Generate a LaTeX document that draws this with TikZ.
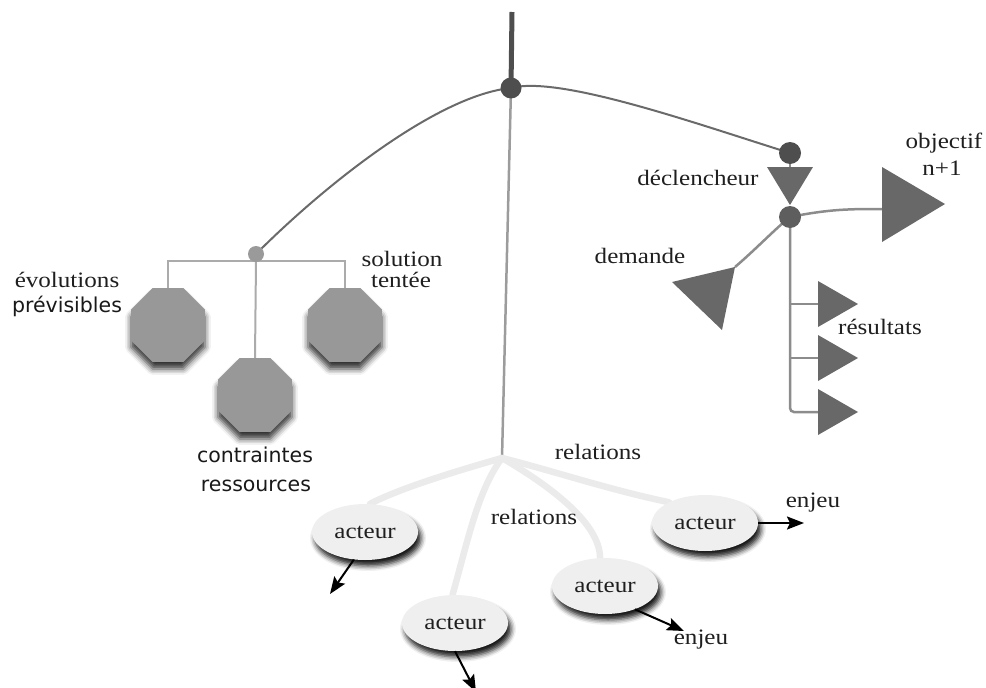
\documentclass[tikz,border=0pt]{standalone}
\usepackage{fontspec}
\newfontfamily\serifA[FakeStretch=1.14]{Liberation Serif}
\newfontfamily\sansA{DejaVu Sans}
\usetikzlibrary{shadows.blur,shapes.geometric,arrows.meta,backgrounds}
\definecolor{dotdark}{HTML}{4E4E4E}
\definecolor{dotmid}{HTML}{5E5E5E}
\definecolor{dotlight}{HTML}{9A9A9A}
\definecolor{curvegray}{HTML}{6A6A6A}
\definecolor{stemgray}{HTML}{9C9C9C}
\definecolor{brgray}{HTML}{ABABAB}
\definecolor{rgray}{HTML}{8C8C8C}
\definecolor{octfill}{HTML}{989898}
\definecolor{trifill}{HTML}{686868}
\definecolor{relgray}{HTML}{EBEBEB}
\definecolor{ellfill}{HTML}{EFEFEF}
\begin{document}
\begin{tikzpicture}[x=1pt,y=-1pt,
  dotn/.style={circle,inner sep=0pt,fill=#1},
  serif/.style={font=\serifA\fontsize{22}{24}\selectfont, text=black!88, inner sep=0pt},
  sans/.style={font=\sansA\fontsize{20.5}{24}\selectfont, text=black!90, inner sep=0pt},
  octa/.style={regular polygon, regular polygon sides=8, minimum size=80pt, inner sep=0pt, fill=octfill,
    blur shadow={shadow xshift=0pt, shadow yshift=-7pt, shadow blur radius=6pt, shadow opacity=80}},
  acteurn/.style={ellipse, minimum width=106pt, minimum height=56pt, inner sep=0pt, fill=ellfill,
    blur shadow={shadow xshift=3pt, shadow yshift=-6pt, shadow blur radius=5pt, shadow opacity=90}, serif},
  tri/.style={fill=trifill},
  curveline/.style={draw=curvegray, line width=2pt},
  relline/.style={draw=relgray, line width=6.5pt, line cap=round},
  enjarrow/.style={draw=black, line width=2pt, arrows={-Stealth[length=17pt, width=13pt, inset=3pt]}},
]
\useasboundingbox (0,0) rectangle (986,688);

% ---------- top hub ----------
\coordinate (top) at (512,12);
\node[dotn=dotdark, minimum size=21pt] (hub) at (511,88) {};
\coordinate (relhub) at (502,458);

% ---------- left group ----------
\node[dotn=dotlight, minimum size=16pt] (ldot) at (256,254) {};
\coordinate (brk) at (256,261);
\node[octa] (oc1) at (168,325) {};
\node[octa] (oc3) at (345,325) {};
\node[octa] (oc2) at (255,395) {};
\node[serif] (tevol) at (67,280) {évolutions};
\node[sans] (tprev) at (67,306) {prévisibles};
\node[serif] (tsol) at (402,259) {solution};
\node[serif] (tten) at (401,280) {tentée};
\node[sans] (tcont) at (255,455) {contraintes};
\node[sans] (tress) at (256,486) {ressources};

% ---------- right group ----------
\node[dotn=dotdark, minimum size=22pt] (rdot1) at (790,153) {};
\node[dotn=dotmid, minimum size=22pt] (rdot2) at (790,217) {};
\coordinate (dtop) at (790,167);
\coordinate (dl) at (767,167);
\coordinate (dr) at (813,167);
\coordinate (dap) at (790,205);
\fill[tri] (dl) -- (dr) -- (dap) -- cycle;
\coordinate (ob1) at (882,167);
\coordinate (ob2) at (882,242);
\coordinate (obap) at (945,204);
\coordinate (obin) at (882,209);
\fill[tri] (ob1) -- (ob2) -- (obap) -- cycle;
\coordinate (de1) at (672,282);
\coordinate (de2) at (735,267);
\coordinate (de3) at (722,330);
\fill[tri] (de1) -- (de2) -- (de3) -- cycle;
\coordinate (b1) at (790,304);
\coordinate (b2) at (790,358);
\coordinate (b3) at (790,412);
\coordinate (r1) at (818,304);
\coordinate (r2) at (818,358);
\coordinate (r3) at (818,412);
\fill[tri] (818,281) -- (818,327) -- (858,304) -- cycle;
\fill[tri] (818,335) -- (818,381) -- (858,358) -- cycle;
\fill[tri] (818,389) -- (818,435) -- (858,412) -- cycle;
\node[serif] (tdecl) at (698,178) {déclencheur};
\node[serif] (tobj) at (944,143) {objectif};
\node[serif] (tn) at (942,168) {n+1};
\node[serif] (tdem) at (640,256) {demande};
\node[serif] (tres) at (880,327) {résultats};

% ---------- bottom group ----------
\node[acteurn] (a1) at (365,532) {acteur};
\node[acteurn] (a2) at (455,623) {acteur};
\node[acteurn] (a3) at (605,586) {acteur};
\node[acteurn] (a4) at (705,523) {acteur};
\node[serif] (trel1) at (598,452) {relations};
\node[serif] (trel2) at (534,517) {relations};
\node[serif] (tenj1) at (813,503) {enjeu};
\node[serif] (tenj2) at (701,640) {enjeu};
\coordinate (e1) at (330,594);
\coordinate (e2) at (476,692);
\coordinate (e3) at (684,631);
\coordinate (e4) at (804,523);
\draw[enjarrow] (a1.-112) -- (e1);
\draw[enjarrow] (a2.-90) -- (e2);
\draw[enjarrow] (a3.-38) -- (e3);
\draw[enjarrow] (a4.east) -- (e4);

% ---------- connectors behind ----------
\begin{scope}[on background layer]
  \draw[draw=dotdark, line width=5pt] (top) -- (hub.center);
  \draw[curveline] (hub.center) .. controls (440,95) and (330,180) .. (ldot.center);
  \draw[curveline] (hub.center) .. controls (560,75) and (700,125) .. (rdot1.center);
  \draw[draw=stemgray, line width=2.5pt] (hub.center) -- (relhub);
  \draw[draw=brgray, line width=2pt] (oc1.north) |- (brk) -| (oc3.north);
  \draw[draw=brgray, line width=2pt] (brk) -- (oc2.north);
  \draw[draw=rgray, line width=2pt] (rdot1.center) -- (dtop);
  \draw[draw=rgray, line width=2.5pt] (rdot2.center) .. controls (830,209) and (850,209) .. (obin);
  \draw[draw=rgray, line width=2.5pt] (rdot2.center) .. controls (775,229) and (755,250) .. (de2);
  \draw[draw=rgray, line width=2.5pt, rounded corners=4pt] (rdot2.center) -- (b3) -- (r3);
  \draw[draw=rgray, line width=2.5pt] (b1) -- (r1);
  \draw[draw=rgray, line width=2.5pt] (b2) -- (r2);
  \draw[relline] (relhub) .. controls (460,470) and (400,488) .. (a1.80);
  \draw[relline] (relhub) .. controls (478,490) and (468,540) .. (a2.95);
  \draw[relline] (relhub) .. controls (540,480) and (600,520) .. (a3.100);
  \draw[relline] (relhub) .. controls (550,470) and (610,490) .. (a4.150);
\end{scope}
\end{tikzpicture}
\end{document}
